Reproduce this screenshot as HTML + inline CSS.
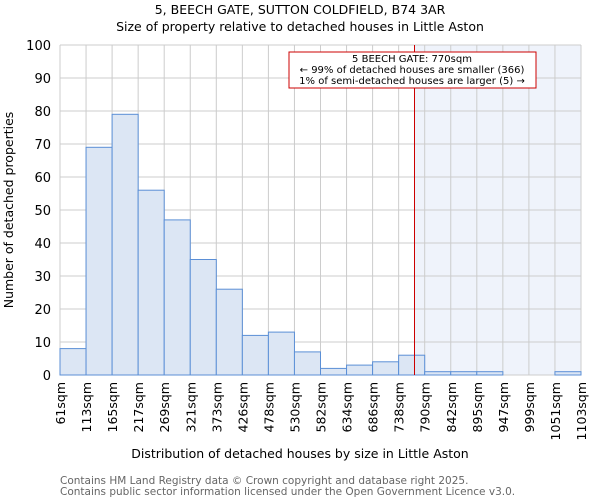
<!DOCTYPE html>
<html><head><meta charset="utf-8"><style>
body{margin:0;background:#fff;font-family:"DejaVu Sans","Liberation Sans",sans-serif}
svg text{font-family:"DejaVu Sans","Liberation Sans",sans-serif}
</style></head><body>
<svg id="c" width="600" height="500" xmlns="http://www.w3.org/2000/svg">
<text x="300" y="14" text-anchor="middle" font-size="12.5">5, BEECH GATE, SUTTON COLDFIELD, B74 3AR</text>
<text x="300" y="31" text-anchor="middle" font-size="12.5">Size of property relative to detached houses in Little Aston</text>
<g id="plot"></g>
<text x="300" y="458" text-anchor="middle" font-size="12.5">Distribution of detached houses by size in Little Aston</text>
<text transform="translate(13,210) rotate(-90)" text-anchor="middle" font-size="12.5">Number of detached properties</text>
<text x="60" y="484" font-size="10.5" fill="#666">Contains HM Land Registry data © Crown copyright and database right 2025.</text>
<text x="60" y="495" font-size="10.5" fill="#666">Contains public sector information licensed under the Open Government Licence v3.0.</text>
</svg>
<script>
const categories=["61sqm","113sqm","165sqm","217sqm","269sqm","321sqm","373sqm","426sqm","478sqm","530sqm","582sqm","634sqm","686sqm","738sqm","790sqm","842sqm","895sqm","947sqm","999sqm","1051sqm","1103sqm"];
const counts=[8,69,79,56,47,35,26,12,13,7,2,3,4,6,1,1,1,0,0,1];
const yTicks=[0,10,20,30,40,50,60,70,80,90,100];
const binStart=61, binWidth=52.1, subjectSize=770;
const L=60,R=581,T=45,B=375,yMax=100;
const bw=(R-L)/counts.length;
const x=v=>L+(v-binStart)/binWidth*bw;
const xi=i=>L+i*bw;
const y=v=>B-v/yMax*(B-T);
const NS="http://www.w3.org/2000/svg";
const g=document.getElementById('plot');
function mk(tag,at,txt){const e=document.createElementNS(NS,tag);for(const k in at)e.setAttribute(k,at[k]);if(txt!=null)e.textContent=txt;g.appendChild(e);return e;}
const sx=x(subjectSize);
let e=mk('rect',{x:sx,y:T,width:R-sx,height:B-T,fill:"#eff3fb"});


yTicks.forEach(t=>{
 e=mk('line',{x1:L,x2:R,y1:y(t),y2:y(t),stroke:"#ccc","stroke-width":1});
 
 
 e=mk('text',{x:L-9,y:y(t)+5,"text-anchor":"end","font-size":"13"},t);
 
 
});
categories.forEach((c,i)=>{
 e=mk('line',{x1:xi(i),x2:xi(i),y1:T,y2:B,stroke:"#ccc","stroke-width":1});
 
 
 const tx=xi(i)+5, ty=382;
 e=mk('text',{x:tx,y:ty,"text-anchor":"end","font-size":"12.5",transform:"rotate(-90 "+tx+" "+ty+")"},c);
 
 
});
counts.forEach((v,i)=>{
 e=mk('rect',{x:xi(i),y:y(v),width:bw,height:B-y(v),fill:"#dce6f4",stroke:"#5b8fd6","stroke-width":1});
 
 
});
e=mk('line',{x1:sx,x2:sx,y1:T,y2:B,stroke:"#c00","stroke-width":1});


e=mk('rect',{x:289,y:52,width:247,height:36,fill:"#fff",stroke:"#c00","stroke-width":1});


[["5 BEECH GATE: 770sqm",62],["← 99% of detached houses are smaller (366)",73],["1% of semi-detached houses are larger (5) →",84]].forEach(a=>{
 e=mk('text',{x:412,y:a[1],"text-anchor":"middle","font-size":"10"},a[0]);
 
 
});
</script>
</body></html>
